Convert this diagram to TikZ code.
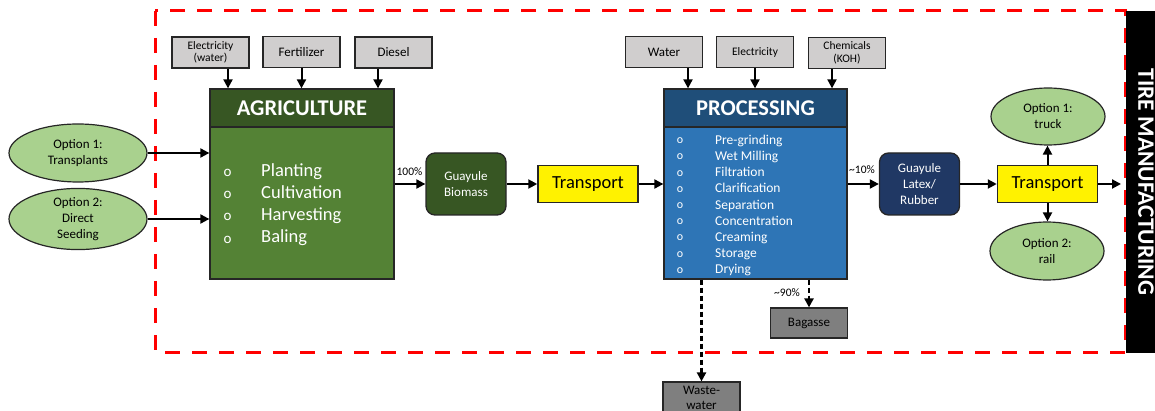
\documentclass[tikz,border=0pt]{standalone}
\usepackage{fontspec}
\setmainfont{Carlito}
\usetikzlibrary{arrows.meta,shapes.geometric}
\definecolor{agrihead}{HTML}{375623}
\definecolor{agribody}{HTML}{548235}
\definecolor{prochead}{HTML}{1F4E79}
\definecolor{procbody}{HTML}{2E75B6}
\definecolor{latexblue}{HTML}{203864}
\definecolor{optgreen}{HTML}{A9D18E}
\definecolor{inputgray}{HTML}{D0CECE}
\definecolor{wastegray}{HTML}{7F7F7F}
\definecolor{edge}{HTML}{262626}
\begin{document}
\begin{tikzpicture}[x=1pt,y=-1pt,
  arr/.style={line width=2pt,-{Triangle[length=9pt,width=9pt]}},
  darr/.style={arr,line width=2.2pt,dash pattern=on 5pt off 3pt},
  inbox/.style={draw=edge,line width=1.2pt,fill=inputgray,minimum width=77pt,minimum height=31pt,inner sep=1pt,align=center},
  opt/.style={ellipse,draw=edge,line width=1.2pt,fill=optgreen,inner sep=0pt,align=center,font=\fontsize{13}{16}\selectfont},
  bigbox/.style={draw=edge,line width=1.3pt,minimum width=184pt,minimum height=190pt,inner sep=0pt},
  headbox/.style={draw=edge,line width=1.3pt,minimum width=184pt,minimum height=38pt,inner sep=0pt,text=white,font=\fontsize{22.5}{24}\selectfont\bfseries},
  midbox/.style={draw=edge,line width=1.3pt,rounded corners=9pt,minimum width=80pt,minimum height=62pt,inner sep=1pt,align=center,text=white,font=\fontsize{13}{16}\selectfont},
  trans/.style={draw=edge,line width=1.5pt,fill=yellow,minimum width=100pt,minimum height=37pt,inner sep=0pt,font=\fontsize{18.5}{20}\selectfont},
  outbox/.style={draw=edge,line width=1.2pt,fill=wastegray,minimum width=77pt,inner sep=1pt,align=center,font=\fontsize{13}{15}\selectfont},
  pct/.style={inner sep=0pt,font=\fontsize{11.5}{12}\selectfont},
  bul/.style={inner sep=0pt,text=white},
  item/.style={inner sep=0pt,anchor=west,text=white,text height=0.7em,text depth=0.2em}]
\clip (0,0) rectangle (1155,411);
\useasboundingbox (0,0) rectangle (1155,411);

% system boundary
\draw[red,line width=3pt,dash pattern=on 15pt off 12pt] (155,11) rectangle (1125,352);
\node[fill=black,rotate=-90,minimum width=342pt,minimum height=40pt,inner sep=0pt,text=white,font=\fontsize{23.5}{25}\selectfont\bfseries] (tire) at (1146,182) {TIRE MANUFACTURING};

% agriculture
\node[bigbox,fill=agribody] (agri) at (302,184) {};
\node[headbox,fill=agrihead] (agrihd) at (302,108) {AGRICULTURE};
\foreach \t [count=\i] in {Planting,Cultivation,Harvesting,Baling}{
  \node[bul,font=\fontsize{15}{15}\selectfont] (agb\i) at (227.5,{150.7+22.2*\i}) {o};
  \node[item,font=\fontsize{18.5}{20}\selectfont] (agt\i) at (261,{151.7+22.2*\i}) {\t};
}

\node[inbox,font=\fontsize{11.5}{12.5}\selectfont] (elec1) at (210.5,52.5) {Electricity\\(water)};
\node[inbox,font=\fontsize{13}{14}\selectfont] (fert) at (301.5,52) {Fertilizer};
\node[inbox,font=\fontsize{13}{14}\selectfont] (dies) at (393.5,52.5) {Diesel};
\draw[arr] ([xshift=17.5pt]elec1.south) -- ([xshift=17.5pt]elec1.south |- agri.north);
\draw[arr] (fert.south) -- (fert.south |- agri.north);
\draw[arr] ([xshift=-15.5pt]dies.south) -- ([xshift=-15.5pt]dies.south |- agri.north);

\node[opt,minimum width=138pt,minimum height=58pt] (o1) at (78,153) {Option 1:\\Transplants};
\node[opt,minimum width=138pt,minimum height=58pt] (o2) at (78,219) {Option 2:\\Direct\\Seeding};
\draw[arr] (o1.east) -- (o1.east -| agri.west);
\draw[arr] (o2.east) -- (o2.east -| agri.west);

% biomass and transport
\node[midbox,fill=agrihead] (bio) at (466,184) {Guayule\\Biomass};
\draw[arr] (agri.east) -- (bio.west);
\node[pct] (p100) at (409.5,172) {100\%};
\node[trans] (tr1) at (588,184) {Transport};
\draw[arr] (bio.east) -- (tr1.west);

% processing
\node[bigbox,fill=procbody,minimum width=183pt] (proc) at (755.5,184) {};
\node[headbox,fill=prochead,minimum width=183pt] (prochd) at (755.5,108) {PROCESSING};
\draw[arr] (tr1.east) -- (proc.west);
\foreach \t [count=\i] in {Pre-grinding,Wet Milling,Filtration,Clarification,Separation,Concentration,Creaming,Storage,Drying}{
  \node[bul,font=\fontsize{12}{12}\selectfont] (prb\i) at (680,{124.6+16.2*\i}) {o};
  \node[item,font=\fontsize{13.5}{15}\selectfont] (prt\i) at (715,{125.6+16.2*\i}) {\t};
}

\node[inbox,font=\fontsize{13}{14}\selectfont] (water) at (664,52) {Water};
\node[inbox,font=\fontsize{11.5}{12.5}\selectfont] (elec2) at (755,52) {Electricity};
\node[inbox,font=\fontsize{11.5}{12.5}\selectfont] (chem) at (847,53) {Chemicals\\(KOH)};
\draw[arr] ([xshift=24pt]water.south) -- ([xshift=24pt]water.south |- proc.north);
\draw[arr] (elec2.south) -- (elec2.south |- proc.north);
\draw[arr] ([xshift=-15pt]chem.south) -- ([xshift=-15pt]chem.south |- proc.north);

% by-products
\node[outbox,minimum height=30pt] (bag) at (809,323) {Bagasse};
\node[outbox,minimum height=32pt,font=\fontsize{13}{15}\selectfont] (waste) at (701.5,398) {Waste-\\water};
\draw[darr] (proc.south -| bag.north) -- (bag.north);
\draw[darr] (proc.south -| waste.north) -- (waste.north);
\node[pct] (p90) at (787,293) {\textasciitilde90\%};

% latex and transport
\node[midbox,fill=latexblue] (lat) at (919.5,184) {Guayule\\Latex/\\Rubber};
\draw[arr] (proc.east) -- (lat.west);
\node[pct] (p10) at (862,170) {\textasciitilde10\%};
\node[trans] (tr2) at (1047.5,184) {Transport};
\draw[arr] (lat.east) -- (tr2.west);
\coordinate (tmend) at (1121,184);
\draw[arr] (tr2.east) -- (tmend);

\node[opt,minimum width=114pt,minimum height=57pt] (truck) at (1048,116.5) {Option 1:\\truck};
\node[opt,minimum width=114pt,minimum height=58pt] (rail) at (1047,251) {Option 2:\\rail};
\draw[arr] (tr2.north) -- (tr2.north |- truck.south);
\draw[arr] (tr2.south) -- (tr2.south |- rail.north);
\end{tikzpicture}
\end{document}
